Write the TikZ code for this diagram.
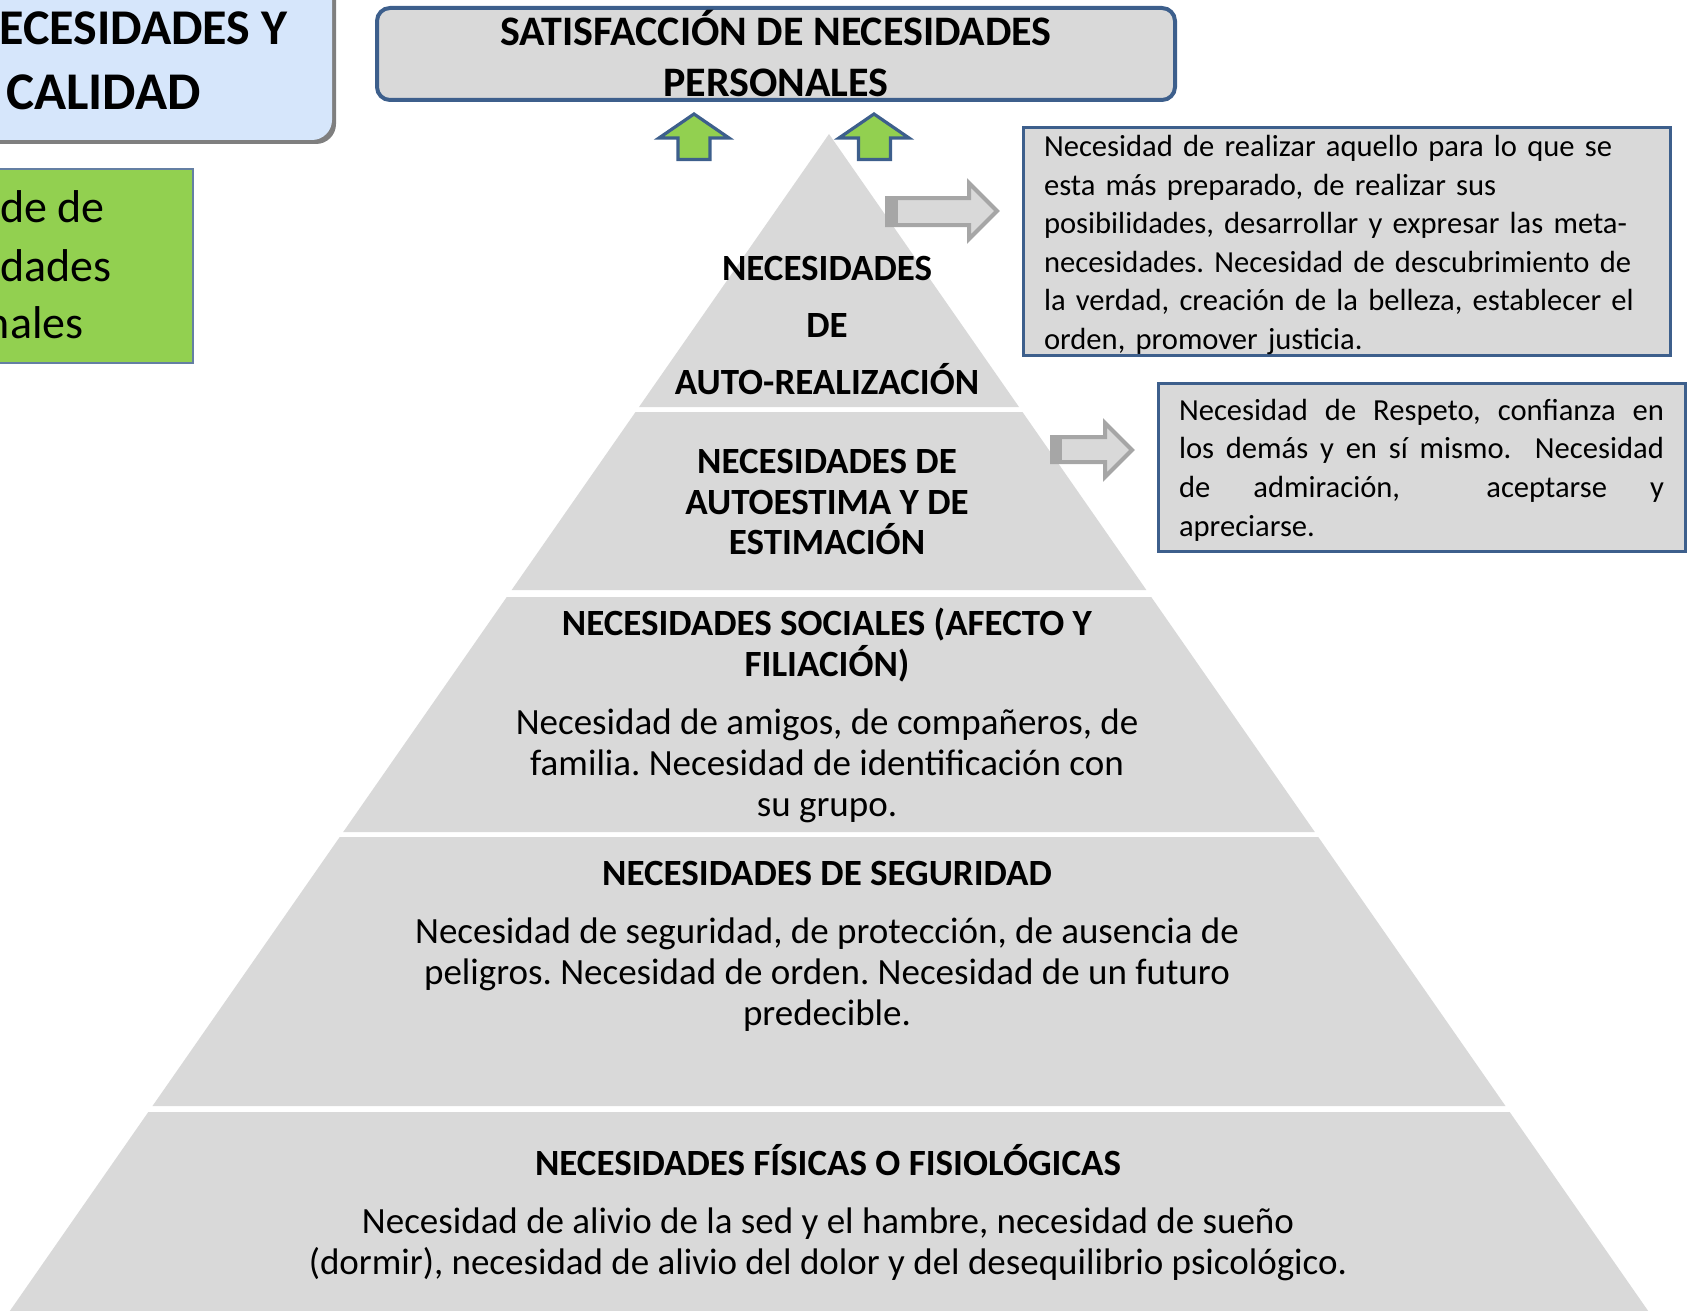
\documentclass[tikz,border=0pt]{standalone}
\usepackage{fontspec}
\setmainfont{Carlito}
\frenchspacing
\definecolor{tiergray}{HTML}{D9D9D9}
\definecolor{frameblue}{HTML}{3D5F8C}
\definecolor{leafgreen}{HTML}{92D050}
\definecolor{arrowgray}{HTML}{A6A6A6}
\definecolor{titleblue}{HTML}{D6E6FB}
\definecolor{shadowgray}{HTML}{7F7F7F}

% one horizontal slice of the pyramid between heights #1 and #2 (apex at 829,134)
\newcommand\tierband[2]{%
  \fill[tier] ({829-0.696*(#1-134)},#1) -- ({829+0.696*(#1-134)},#1)
    -- ({829+0.696*(#2-134)},#2) -- ({829-0.696*(#2-134)},#2) -- cycle;}
% a line spread over the full measure of the esteem box
\newcommand\fullline[1]{\makebox[242.5pt][l]{#1}}

\begin{document}
\begin{tikzpicture}[x=0.5pt,y=-0.5pt,
  tier/.style={fill=tiergray},
  tiertext/.style={align=center, inner sep=0pt, font=\fontsize{18.5pt}{20.5pt}\selectfont},
  infobox/.style={draw=frameblue, fill=tiergray, line width=1.5pt, inner sep=0pt},
  infotext/.style={inner sep=0pt, align=left, font=\fontsize{15.3pt}{19.3pt}\selectfont},
  greenarrow/.style={fill=leafgreen, draw=frameblue, line width=1.6pt, line join=miter},
  grayarrow/.style={fill=tiergray, draw=arrowgray, line width=2pt, line join=miter},
  cornertext/.style={anchor=base east, inner sep=0pt},
]
\useasboundingbox (0,0) rectangle (1687,1311);
\clip (0,0) rectangle (1687,1311);

% --- title box, upper left ---
\fill[shadowgray, rounded corners=10pt] (-60,-60) rectangle (336,144);
\fill[titleblue, rounded corners=10pt] (-60,-60) rectangle (332,140);
\node[cornertext, font=\bfseries\fontsize{25pt}{25pt}\selectfont] (ttl1) at (288,45) {ECESIDADES Y};
\node[cornertext, font=\bfseries\fontsize{26.5pt}{26.5pt}\selectfont] (ttl2) at (201,110) {CALIDAD};

% --- green caption box ---
\draw[fill=leafgreen, draw=frameblue!80, line width=1pt] (-5,169) rectangle (193,363);
\node[cornertext, font=\fontsize{23pt}{23pt}\selectfont] (cap1) at (105,222) {de de};
\node[cornertext, font=\fontsize{23pt}{23pt}\selectfont] (cap2) at (112,281) {dades};
\node[cornertext, font=\fontsize{23pt}{23pt}\selectfont] (cap3) at (84,338) {nales};

% --- goal box ---
\node[draw=frameblue, fill=tiergray, line width=2pt, rounded corners=6.5pt,
      minimum width=399pt, minimum height=46pt, inner sep=0pt, align=center,
      font=\bfseries\fontsize{21pt}{25.5pt}\selectfont] (goal) at (776,54)
  {SATISFACCIÓN DE NECESIDADES\\PERSONALES};

% --- green arrows towards the goal ---
\filldraw[greenarrow] (694,114) -- (729,138) -- (710,138) -- (710,159.5)
  -- (678,159.5) -- (678,138) -- (659,138) -- cycle;
\filldraw[greenarrow] (874,114) -- (909,138) -- (890.5,138) -- (890.5,159.5)
  -- (858.5,159.5) -- (858.5,138) -- (839,138) -- cycle;

% --- pyramid slices ---
\tierband{134}{407}
\tierband{412}{590}
\tierband{597}{832}
\tierband{837}{1106}
\tierband{1112}{1311}

% --- pyramid labels ---
\node[tiertext, font=\bfseries\fontsize{18.5pt}{28.5pt}\selectfont] (lvl5) at (827,326)
  {NECESIDADES\\DE\\AUTO-REALIZACIÓN};
\node[tiertext, font=\bfseries\fontsize{18.5pt}{20.3pt}\selectfont] (lvl4) at (827,502)
  {NECESIDADES DE\\AUTOESTIMA Y DE\\ESTIMACIÓN};
\node[tiertext] (lvl3) at (827,715.5)
  {\textbf{NECESIDADES SOCIALES (AFECTO Y}\\\textbf{FILIACIÓN)}\\[8.5pt]
   Necesidad de amigos, de compañeros, de\\familia. Necesidad de identificación con\\su grupo.};
\node[tiertext] (lvl2) at (827,946.5)
  {\textbf{NECESIDADES DE SEGURIDAD}\\[8.5pt]
   Necesidad de seguridad, de protección, de ausencia de\\peligros. Necesidad de orden. Necesidad de un futuro\\predecible.};
\node[tiertext] (lvl1) at (828,1212.5)
  {\textbf{NECESIDADES FÍSICAS O FISIOLÓGICAS}\\[8.5pt]
   Necesidad de alivio de la sed y el hambre, necesidad de sueño\\(dormir), necesidad de alivio del dolor y del desequilibrio psicológico.};

% --- description boxes ---
\node[infobox, minimum width=323.5pt, minimum height=113.5pt] (selfdesc) at (1346.5,241.5) {};
\node[infotext, text width=302.5pt] (selftext) at (1346.5,245)
  {\mbox{Necesidad de realizar aquello para lo que se}\\
   \mbox{esta más preparado, de realizar sus}\\
   \mbox{posibilidades, desarrollar y expresar las meta-}\\
   \mbox{necesidades. Necesidad de descubrimiento de}\\
   \mbox{la verdad, creación de la belleza, establecer el}\\
   \mbox{orden, promover justicia.}};
\node[infobox, minimum width=263.5pt, minimum height=84pt] (esteemdesc) at (1421.5,467) {};
\node[infotext, text width=242.5pt] (esteemtext) at (1421.5,470)
  {\fullline{Necesidad\hfill de\hfill Respeto,\hfill confianza\hfill en}\\
   \fullline{los\hfill demás\hfill y\hfill en\hfill sí\hfill mismo.\hfill\hfill Necesidad}\\
   \fullline{de\hfill admiración,\hfill\hfill aceptarse\hfill y}\\
   apreciarse.};

% --- block arrows from the pyramid to the descriptions ---
\filldraw[grayarrow] (887,198) -- (969,198) -- (969,183) -- (997,211)
  -- (969,239) -- (969,225) -- (887,225) -- cycle;
\fill[arrowgray] (885,196) rectangle (898,227);
\filldraw[grayarrow] (1052,437) -- (1105,437) -- (1105,423) -- (1132,450)
  -- (1105,477) -- (1105,462) -- (1052,462) -- cycle;
\fill[arrowgray] (1050,435) rectangle (1062,464);
\end{tikzpicture}
\end{document}
